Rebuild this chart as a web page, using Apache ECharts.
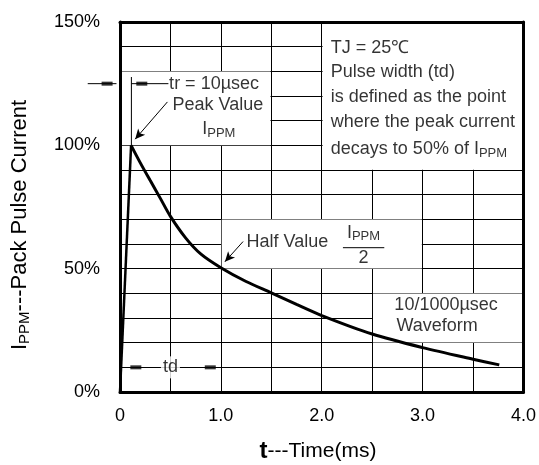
<!DOCTYPE html>
<html>
<head>
<meta charset="utf-8">
<script src="https://cdn.jsdelivr.net/npm/echarts@6/dist/echarts.min.js"></script>
<style>html,body{margin:0;padding:0;background:#fff}#c{width:539px;height:465px}</style>
</head>
<body>
<div id="c"></div>
<script>
// ---- data ----
const riseTime = [0, 0.11];
const riseCurrent = [0, 100];
const decayTime = [0.11, 0.2, 0.3, 0.4, 0.5, 0.65, 0.8, 1.0, 1.25, 1.5, 1.75, 2.0, 2.5, 3.0, 3.5, 3.76];
const decayCurrent = [100, 93, 85.7, 78.5, 71.2, 62.5, 56, 50.4, 44.8, 40.2, 35.5, 31, 23.5, 18, 13.3, 11];
const xTickLabels = ['0', '1.0', '2.0', '3.0', '4.0'];
const yTickLabels = ['0%', '50%', '100%', '150%'];

// ---- annotation geometry (data units) ----
const clearBoxes = [
  [[2.0, 90], [4.0, 150]],
  [[0, 100], [1.5, 130]],
  [[1.0, 50], [3.0, 70]],
  [[2.5, 20], [4.0, 40]]
];
const arrows = [
  [[0.47, 117.6], [0.15, 102.5]],
  [[1.22, 61], [1.04, 52.8]]
];
const thinLines = [
  [[0.113, 127.7], [0.113, 100]],
  [[0.113, 125], [0.48, 125]],
  [[2.21, 58.5], [2.62, 58.5]],
  [[-0.32, 125], [-0.035, 125]]
];
const dimMarks = [[-0.128, 125], [0.216, 125], [0.157, 10], [0.895, 10]];

const F = 'Liberation Sans, Arial, sans-serif';
const FS = 18;
const rich = {
  m: { fontSize: FS, fontFamily: F, color: '#000' },
  s: { fontSize: 13, fontFamily: F, color: '#000', padding: [8, 0, 0, 0] }
};
const notes = [
  { v: [2.09, 139.5], t: '{m|TJ = 25℃}', a: 'left' },
  { v: [2.09, 129.6], t: '{m|Pulse width (td)}', a: 'left' },
  { v: [2.09, 119.5], t: '{m|is defined as the point}', a: 'left' },
  { v: [2.09, 109.3], t: '{m|where the peak current}', a: 'left' },
  { v: [2.09, 98.3], t: '{m|decays to 50% of I}{s|PPM}', a: 'left' },
  { v: [0.487, 124.9], t: '{m|tr = 10µsec}', a: 'left' },
  { v: [0.97, 116.3], t: '{m|Peak Value}', a: 'center' },
  { v: [0.98, 106.6], t: '{m|I}{s|PPM}', a: 'center' },
  { v: [1.254, 61], t: '{m|Half Value}', a: 'left' },
  { v: [2.414, 64.6], t: '{m|I}{s|PPM}', a: 'center' },
  { v: [2.414, 54.5], t: '{m|2}', a: 'center' },
  { v: [2.72, 35.3], t: '{m|10/1000µsec}', a: 'left' },
  { v: [2.74, 26.8], t: '{m|Waveform}', a: 'left' },
  { v: [0.5, 10], t: '{m|td}', a: 'center', bg: true }
];

const chart = echarts.init(document.getElementById('c'), null, { renderer: 'canvas' });

const xBase = { type: 'value', min: 0, max: 4, interval: 0.5, gridIndex: 0 };
const yBase = { type: 'value', min: 0, max: 150, interval: 10, gridIndex: 0 };
const borderAxisLine = { show: true, onZero: false, lineStyle: { color: '#000', width: 3 } };
const hidden = { axisLabel: { show: false }, axisTick: { show: false }, splitLine: { show: false } };

chart.setOption({
  animation: false,
  backgroundColor: '#fff',
  grid: { left: 120, right: 11, top: 22, bottom: 73 },
  xAxis: [
    Object.assign({}, xBase, {
      axisLine: { show: false }, axisTick: { show: false },
      splitLine: { show: true, lineStyle: { color: '#000', width: 1 } },
      axisLabel: {
        color: '#000', fontSize: FS, fontFamily: F, margin: 15,
        formatter: v => (Math.abs(v - Math.round(v)) < 1e-9 ? xTickLabels[Math.round(v)] : '')
      }
    }),
    Object.assign({}, xBase, hidden, { position: 'bottom', axisLine: borderAxisLine, z: 10 }),
    Object.assign({}, xBase, hidden, { position: 'top', axisLine: borderAxisLine, z: 10 })
  ],
  yAxis: [
    Object.assign({}, yBase, {
      axisLine: { show: false }, axisTick: { show: false },
      splitLine: { show: true, lineStyle: { color: '#000', width: 1 } },
      axisLabel: {
        color: '#000', fontSize: FS, fontFamily: F, margin: 20,
        formatter: v => (v % 50 === 0 ? yTickLabels[v / 50] : '')
      }
    }),
    Object.assign({}, yBase, hidden, { position: 'left', axisLine: borderAxisLine, z: 10 }),
    Object.assign({}, yBase, hidden, { position: 'right', axisLine: borderAxisLine, z: 10 })
  ],
  graphic: [
    {
      type: 'text', x: 20, y: 225, rotation: Math.PI / 2, silent: true,
      style: {
        text: '{m|I}{s|PPM}{m|---Pack Pulse Current}',
        rich: {
          m: { fontSize: 22, fontFamily: F, fill: '#000' },
          s: { fontSize: 15, fontFamily: F, fill: '#000', padding: [9, 0, 0, 0] }
        },
        align: 'center', verticalAlign: 'middle'
      }
    },
    {
      type: 'text', x: 318, y: 451, silent: true,
      style: {
        text: '{b|t}{m|---Time(ms)}',
        rich: {
          b: { fontSize: 24, fontWeight: 'bold', fontFamily: F, fill: '#000' },
          m: { fontSize: 21, fontFamily: F, fill: '#000' }
        },
        align: 'center', verticalAlign: 'middle'
      }
    }
  ],
  series: [
    {
      name: 'boxes', type: 'line', data: [], silent: true,
      markArea: {
        silent: true, itemStyle: { color: '#fff', opacity: 1 },
        data: clearBoxes.map(b => [
          { coord: [b[0][0] + 0.008, b[0][1] + 0.06] },
          { coord: [b[1][0] - 0.008, b[1][1] - 0.06] }
        ])
      },
      markLine: {
        silent: true, symbol: ['none', 'arrow'], symbolSize: [7, 10],
        lineStyle: { color: '#000', width: 1, type: 'solid' },
        label: { show: false },
        data: arrows.map(a => [{ coord: a[0] }, { coord: a[1] }])
      }
    },
    {
      name: 'thin', type: 'custom', silent: true, z: 6, clip: false,
      data: thinLines.map(l => [l[0][0], l[0][1], l[1][0], l[1][1]]),
      renderItem: (params, api) => {
        const p1 = api.coord([api.value(0), api.value(1)]);
        const p2 = api.coord([api.value(2), api.value(3)]);
        return {
          type: 'line',
          shape: { x1: p1[0], y1: p1[1], x2: p2[0], y2: p2[1] },
          style: { stroke: '#000', lineWidth: 1 }
        };
      },
      encode: { x: [0, 2], y: [1, 3] }
    },
    {
      name: 'rise', type: 'line', silent: true, z: 4, symbol: 'none',
      lineStyle: { color: '#000', width: 2.5 },
      data: riseTime.map((t, i) => [t, riseCurrent[i]])
    },
    {
      name: 'decay', type: 'line', silent: true, z: 4, symbol: 'none',
      smooth: 0.3,
      lineStyle: { color: '#000', width: 3 },
      data: decayTime.map((t, i) => [t, decayCurrent[i]])
    },
    {
      name: 'marks', type: 'scatter', clip: false, silent: true, z: 6,
      symbol: 'rect', symbolSize: [11, 4],
      itemStyle: { color: '#000' },
      data: dimMarks
    },
    {
      name: 'notes', type: 'scatter', silent: true, z: 7, symbolSize: 0,
      data: notes.map(n => ({
        value: n.v,
        label: {
          show: true, position: 'inside', formatter: n.t, rich: rich,
          align: n.a, verticalAlign: 'middle',
          backgroundColor: n.bg ? '#fff' : 'transparent',
          padding: n.bg ? [2, 2, 2, 2] : 0
        }
      }))
    }
  ]
});
</script>
</body>
</html>
